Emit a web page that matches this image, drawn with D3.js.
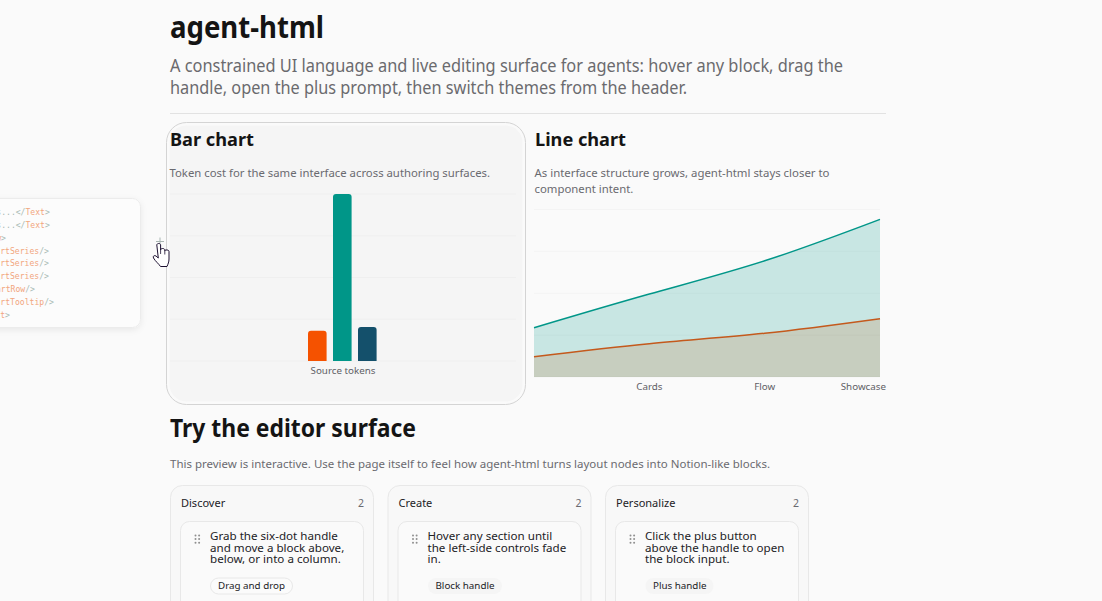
<!DOCTYPE html>
<html>
<head>
<meta charset="utf-8">
<title>agent-html</title>
<script src="https://cdn.jsdelivr.net/npm/d3@7"></script>
<style>
    html, body { margin: 0; padding: 0; background: #fafafa; overflow: hidden; }
    svg { display: block; }
    text { font-family: "Noto Sans", "Open Sans", sans-serif; }
    .mono { font-family: "DejaVu Sans Mono", monospace; font-size: 8.1px; }
</style>
</head>
<body>
<div id="page"></div>
<script>
// Bar chart data
const barCategories = ["Source tokens"];
const barSeriesNames = ["agent-html", "HTML", "JSX"];
const barValues = [1450, 8000, 1630];
const barColors = ["#f55200", "#009688", "#14506b"];
const barGridTicks = [0, 2000, 4000, 6000, 8000];

// Line chart data
const lineCategories = ["Start", "Cards", "Flow", "Showcase"];
const lineTickLabels = ["", "Cards", "Flow", "Showcase"];
const lineTeal = [2350, 3960, 5550, 7530];
const lineOrange = [970, 1590, 2090, 2785];
const lineGridTicks = [0, 2000, 4000, 6000, 8000];

// Board data
const boardTitles = ["Discover", "Create", "Personalize"];
const boardCounts = [2, 2, 2];
const boardText = [
    ["Grab the six-dot handle", "and move a block above,", "below, or into a column."],
    ["Hover any section until", "the left-side controls fade", "in."],
    ["Click the plus button", "above the handle to open", "the block input."]
];
const boardTags = ["Drag and drop", "Block handle", "Plus handle"];

// Code panel, clipped by the left edge of the window
const codeLines = [
    ["<Text>Cards...", "</", "Text", ">"],
    ["<Text>Flows...", "</", "Text", ">"],
    ["", "</", "ChartRow", ">"],
    ["", "<", "ChartSeries", "/>"],
    ["", "<", "ChartSeries", "/>"],
    ["", "<", "ChartSeries", "/>"],
    ["", "<", "ChartRow", "/>"],
    ["", "<", "ChartTooltip", "/>"],
    ["", "</", "Chart", ">"]
];
const codeEnds = [50, 50, 6, 49, 49, 49, 35, 54, 10];

const width = 1102, height = 601;
const svg = d3.select("#page").append("svg")
    .attr("width", width)
    .attr("height", height);

// fit: squeeze the text to a measured width, the fallback font runs wider than the original
function label(x, y, str, size, color, weight, anchor, fit) {
    const t = svg.append("text")
        .attr("x", x).attr("y", y)
        .attr("font-size", size)
        .attr("font-weight", weight || 400)
        .attr("fill", color)
        .attr("text-anchor", anchor || "start")
        .text(str);
    if (fit) t.attr("textLength", fit).attr("lengthAdjust", "spacingAndGlyphs");
    return t;
}

// Header
label(170, 38, "agent-html", 30, "#141414", 700, "start", 154);
label(170, 72, "A constrained UI language and live editing surface for agents: hover any block, drag the", 17.2, "#6a6a6e", 400, "start", 673);
label(170, 94, "handle, open the plus prompt, then switch themes from the header.", 17.2, "#6a6a6e", 400, "start", 517);
svg.append("line").attr("x1", 170).attr("x2", 886).attr("y1", 113.5).attr("y2", 113.5).attr("stroke", "#e2e2e2");

// Floating code panel
const defs = svg.append("defs");
const shadow = defs.append("filter").attr("id", "soft").attr("x", "-20%").attr("y", "-20%").attr("width", "140%").attr("height", "140%");
shadow.append("feDropShadow").attr("dx", 0).attr("dy", 2).attr("stdDeviation", 3).attr("flood-color", "#000").attr("flood-opacity", 0.07);
svg.append("rect")
    .attr("x", -120).attr("y", 198.5).attr("width", 260.5).attr("height", 129).attr("rx", 8)
    .attr("fill", "#fcfcfc").attr("stroke", "#ececec").attr("filter", "url(#soft)");
const charW = 4.88;
codeLines.forEach((parts, i) => {
    const n = parts.join("").length;
    const t = svg.append("text").attr("class", "mono")
        .attr("x", codeEnds[i] - n * charW)
        .attr("y", 215 + i * 12.85);
    t.append("tspan").attr("fill", "#a9b8b3").text(parts[0]);
    t.append("tspan").attr("fill", "#a9bbb5").text(parts[1]);
    t.append("tspan").attr("fill", "#f2a67e").text(parts[2]);
    t.append("tspan").attr("fill", "#a9bbb5").text(parts[3]);
});

// Bar chart card (hovered)
svg.append("rect")
    .attr("x", 166.5).attr("y", 122.5).attr("width", 359).attr("height", 282).attr("rx", 20)
    .attr("fill", "#fafafa").attr("stroke", "#d4d4d4");
svg.append("rect")
    .attr("x", 169.5).attr("y", 125.5).attr("width", 353).attr("height", 276).attr("rx", 17)
    .attr("fill", "#f5f5f5");
label(170, 146, "Bar chart", 18.5, "#141414", 700, "start", 84);
label(169.5, 177, "Token cost for the same interface across authoring surfaces.", 11.3, "#6a6a70", 400, "start", 320.5);

const barY = d3.scaleLinear().domain([0, 8000]).range([361, 194]);
const barX = d3.scaleBand().domain(barCategories).range([170, 516]);
const barInner = d3.scaleBand().domain(barSeriesNames)
    .range([barX(barCategories[0]) + 138, barX(barCategories[0]) + 206.6]).paddingInner(0.256);

svg.append("g").selectAll("line").data(barGridTicks).enter().append("line")
    .attr("x1", 170).attr("x2", 516)
    .attr("y1", d => barY(d)).attr("y2", d => barY(d))
    .attr("stroke", "#efefef");

// rounded top corners only
function topRounded(x, y, w, h, r) {
    return `M${x},${y + h}V${y + r}Q${x},${y} ${x + r},${y}H${x + w - r}Q${x + w},${y} ${x + w},${y + r}V${y + h}Z`;
}
svg.append("g").selectAll("path").data(barValues).enter().append("path")
    .attr("d", (d, i) => topRounded(barInner(barSeriesNames[i]), barY(d), barInner.bandwidth(), barY(0) - barY(d), 3))
    .attr("fill", (d, i) => barColors[i]);
label(343, 374, barCategories[0], 9.8, "#5f5f66", 400, "middle");

// Line chart
label(535, 146, "Line chart", 18.5, "#141414", 700, "start", 91);
label(534.5, 177, "As interface structure grows, agent-html stays closer to", 11.35, "#6a6a70", 400, "start", 295);
label(534.5, 193, "component intent.", 11.35, "#6a6a70");

const lineX = d3.scalePoint().domain(lineCategories).range([534, 880]);
const lineY = d3.scaleLinear().domain([0, 8000]).range([377, 209.5]);

svg.append("g").selectAll("line").data(lineGridTicks).enter().append("line")
    .attr("x1", 534).attr("x2", 880)
    .attr("y1", d => lineY(d)).attr("y2", d => lineY(d))
    .attr("stroke", "#f4f4f4");

const areaGen = d3.area().x((d, i) => lineX(lineCategories[i])).y0(lineY(0)).y1(d => lineY(d)).curve(d3.curveNatural);
const lineGen = d3.line().x((d, i) => lineX(lineCategories[i])).y(d => lineY(d)).curve(d3.curveNatural);

svg.append("path").attr("d", areaGen(lineOrange)).attr("fill", "#f55200").attr("fill-opacity", 0.18);
svg.append("path").attr("d", areaGen(lineTeal)).attr("fill", "#009688").attr("fill-opacity", 0.2);
svg.append("path").attr("d", lineGen(lineOrange)).attr("fill", "none").attr("stroke", "#c4591c").attr("stroke-width", 1.5);
svg.append("path").attr("d", lineGen(lineTeal)).attr("fill", "none").attr("stroke", "#009688").attr("stroke-width", 1.5);

lineTickLabels.forEach((d, i) => {
    const last = i === lineTickLabels.length - 1;
    label(last ? 886 : lineX(lineCategories[i]), 390, d, 9.8, "#5f5f66", 400, last ? "end" : "middle");
});

// Editor section
label(170, 437, "Try the editor surface", 24.5, "#141414", 700, "start", 246);
label(170, 468, "This preview is interactive. Use the page itself to feel how agent-html turns layout nodes into Notion-like blocks.", 11.4, "#6a6a70", 400, "start", 600);

const colX = [170.5, 388, 605.5];
boardTitles.forEach((title, i) => {
    const x = colX[i];
    svg.append("rect").attr("x", x).attr("y", 485.5).attr("width", 203).attr("height", 140).attr("rx", 12)
        .attr("fill", "#f8f8f8").attr("stroke", "#e8e8e8");
    label(x + 10.5, 507, title, 11, "#222226");
    label(x + 193.5, 507, boardCounts[i], 10.5, "#6a6a70", 400, "end");
    svg.append("rect").attr("x", x + 10).attr("y", 521.5).attr("width", 183).attr("height", 100).attr("rx", 9)
        .attr("fill", "#fafafa").attr("stroke", "#e8e8e8");
    // six-dot handle
    [0, 1, 2].forEach(r => [0, 1].forEach(c => {
        svg.append("circle").attr("cx", x + 25 + c * 3.6).attr("cy", 535.5 + r * 3.6).attr("r", 1).attr("fill", "#8f8f8f");
    }));
    boardText[i].forEach((t, j) => {
        label(x + 39.5, [540, 552, 563][j], t, 11.6, "#222226");
    });
    const pillW = [82, 74, 68][i];
    svg.append("rect").attr("x", x + 40).attr("y", 578).attr("width", pillW).attr("height", 16).attr("rx", 8)
        .attr("fill", i === 0 ? "#fbfbfb" : "#f5f5f5").attr("stroke", i === 0 ? "#e8e8e8" : "none");
    label(x + 47.5, 589, boardTags[i], 9.8, "#222226");
});

// Plus control and hand cursor
svg.append("path").attr("d", "M160,237.5V245.5M156,241.5H164").attr("stroke", "#a9b6b3").attr("fill", "none");
svg.append("path")
    .attr("d", "M156.8,245c0,-2 3.8,-2 3.8,0V250c0,-2 4.2,-2 4.2,0v1c0,-1.5 4.2,-1.5 4.2,0.5V259c0,3 -1,5 -2,7.5h-6.5c-1.5,-2.5 -5,-5 -7,-8.5c-1,-2 1,-3 2.5,-2l2.3,2Z")
    .attr("fill", "#fff").attr("stroke", "#1c1030").attr("stroke-width", 1);
svg.append("path").attr("d", "M160.6,250v4M164.8,251v3.5").attr("stroke", "#1c1030").attr("stroke-width", 0.8);
</script>
</body>
</html>
